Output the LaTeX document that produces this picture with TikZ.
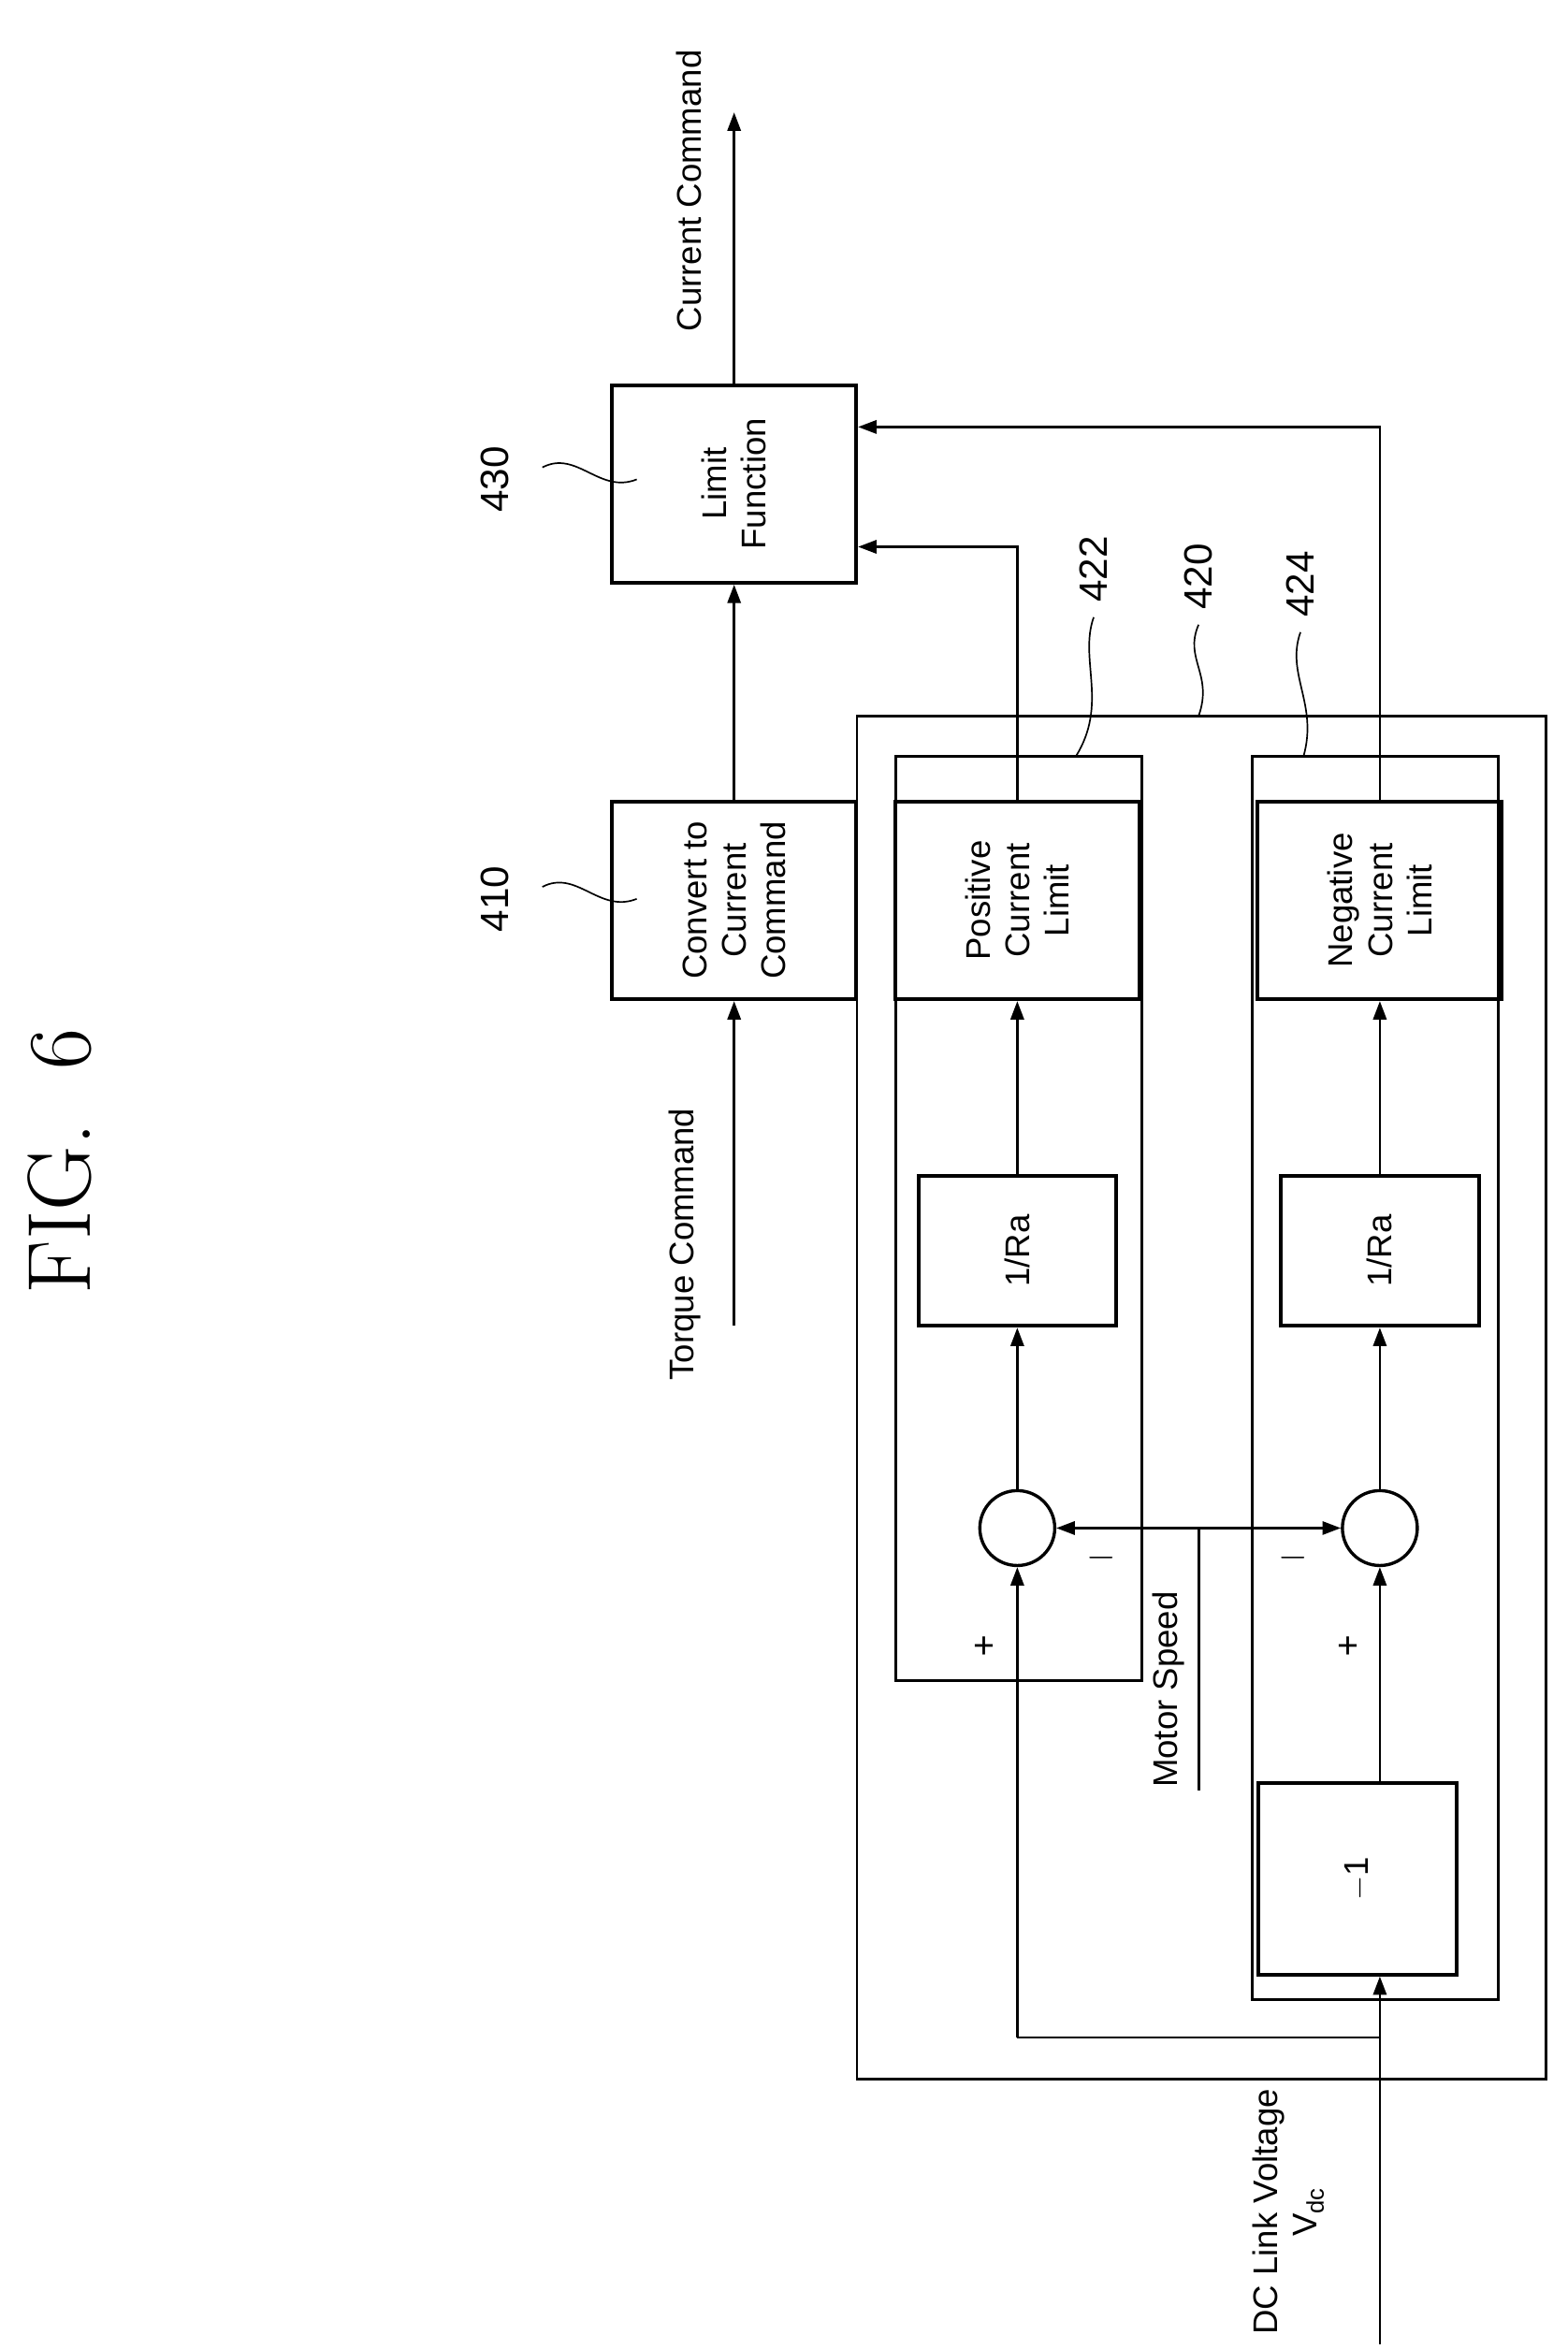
\documentclass[tikz,border=0pt]{standalone}
\usepackage{fontspec}
\setsansfont{Liberation Sans}
\usetikzlibrary{arrows.meta}
\begin{document}
\begin{tikzpicture}
		[x=0.02cm,y=-0.02cm,line width=1pt,
		%Styles
		block/.style={draw,line width=1.4pt,minimum width=2.64cm,minimum height=3.26cm,align=center,rotate=90,font=\sffamily\fontsize{13}{15}\selectfont,inner sep=2pt},
		small block/.style={block,minimum height=2.64cm,minimum width=2cm},
		sum/.style={circle,draw,line width=1.2pt,minimum size=1cm,inner sep=0pt},
		label text/.style={rotate=90,font=\sffamily\fontsize{13}{15}\selectfont,align=center},
		ref text/.style={rotate=90,font=\sffamily\fontsize{15}{17}\selectfont},
		frame/.style={draw,line width=1pt},
		arr/.style={-{Triangle[length=7pt,width=5pt]}}
		]
		\useasboundingbox (0,0) rectangle (1046,1568);
		
		%Title
		\node[rotate=90,font=\fontsize{34}{40}\selectfont] (title) at (40,775) {FIG.~~6};
		
		%Frames
		\draw[frame] (572,478) rectangle (1032,1388);
		\draw[frame] (598,505) rectangle (762,1122);
		\draw[frame] (836,505) rectangle (1000,1335);
		
		%Blocks
		\node[block] (LF) at (490,323) {Limit\\Function};
		\node[block] (CC) at (490,601) {Convert to\\Current\\Command};
		\node[block] (PCL) at (679,601) {Positive\\Current\\Limit};
		\node[block] (NCL) at (921,601) {Negative\\Current\\Limit};
		\node[small block] (RA1) at (679,835) {1/Ra};
		\node[small block] (RA2) at (921,835) {1/Ra};
		\node[small block,minimum width=2.56cm] (NEG) at (906,1254) {$-$1};
		\node[sum] (S1) at (679,1020) {};
		\node[sum] (S2) at (921,1020) {};
		
		%Coordinates
		\coordinate (out) at (490,75);
		\coordinate (tq) at (490,885);
		\coordinate (dc) at (921,1565);
		\coordinate (br) at (921,1360);
		\coordinate (brl) at (679,1360);
		\coordinate (ms) at (800,1195);
		\coordinate (msj) at (800,1020);
		
		%Labels
		\node[label text,anchor=west] (lcur) at (460,228) {Current Command};
		\node[label text,anchor=west] (ltq) at (457,928) {Torque Command};
		\node[label text,anchor=west] (lms) at (780,1200) {Motor Speed};
		\node[label text,anchor=west] (ldc) at (860,1565) {DC Link Voltage\\V\textsubscript{dc}};
		\node[font=\sffamily\fontsize{14}{16}\selectfont] (p1) at (657,1100) {+};
		\node[font=\sffamily\fontsize{14}{16}\selectfont] (p2) at (900,1100) {+};
		\node[font=\sffamily\fontsize{14}{16}\selectfont] (m1) at (735,1040) {$-$};
		\node[font=\sffamily\fontsize{14}{16}\selectfont] (m2) at (863,1040) {$-$};
		
		%Reference numbers
		\node[ref text] (r430) at (330,320) {430};
		\node[ref text] (r410) at (330,600) {410};
		\node[ref text] (r422) at (730,380) {422};
		\node[ref text] (r420) at (800,385) {420};
		\node[ref text] (r424) at (868,390) {424};
		\draw[line width=0.6pt] (362,312) .. controls (385,300) and (400,330) .. (425,320);
		\draw[line width=0.6pt] (362,592) .. controls (385,580) and (400,610) .. (425,600);
		\draw[line width=0.6pt] (730,412) .. controls (720,440) and (740,470) .. (718,505);
		\draw[line width=0.6pt] (800,417) .. controls (790,440) and (810,450) .. (800,478);
		\draw[line width=0.6pt] (868,422) .. controls (858,450) and (880,470) .. (870,505);
		
		%Connectors
		\draw[arr] (LF.east) -- (out);
		\draw[arr] (CC.east) -- (LF.west);
		\draw[arr] (tq) -- (CC.west);
		\draw[arr] (PCL.east) |- (LF.south |- 0,365);
		\draw[arr] (NCL.east) |- (LF.south |- 0,285);
		\draw[arr] (RA1.east) -- (PCL.west);
		\draw[arr] (RA2.east) -- (NCL.west);
		\draw[arr] (S1) -- (RA1.west);
		\draw[arr] (S2) -- (RA2.west);
		\draw (dc) -- (br) -- (brl);
		\draw[arr] (brl) -- (S1);
		\draw[arr] (br) -- (NEG.west -| br);
		\draw[arr] (NEG.east -| br) -- (S2);
		\draw (ms) -- (msj);
		\draw[{Triangle[length=7pt,width=5pt]}-{Triangle[length=7pt,width=5pt]}] (S1) -- (S2);
	\end{tikzpicture}
\end{document}
